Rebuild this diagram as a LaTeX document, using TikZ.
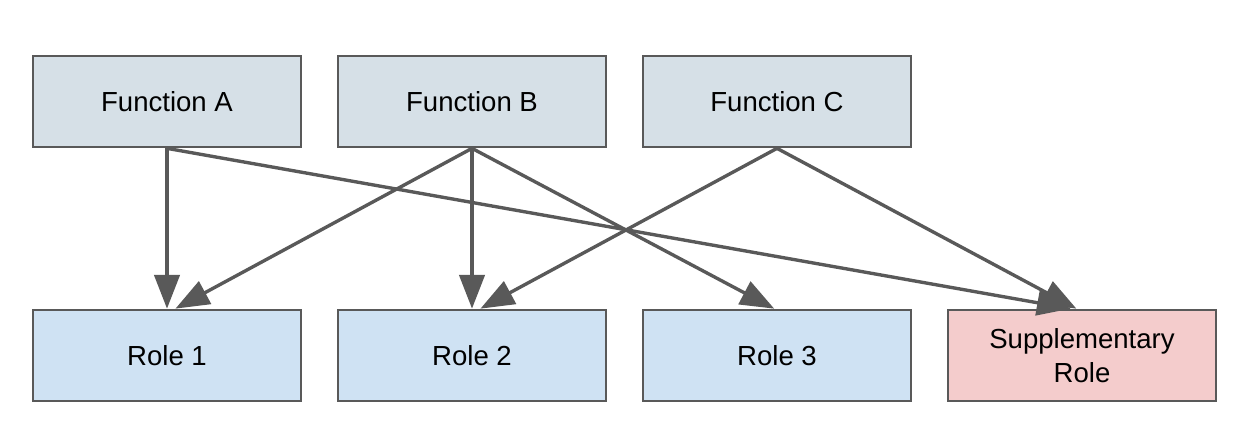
\documentclass[tikz,border=0pt]{standalone}
\usepackage{fontspec}
\setmainfont{Liberation Sans}
\usetikzlibrary{arrows.meta}
\definecolor{linegray}{HTML}{595959}
\definecolor{funcfill}{HTML}{D6E0E7}
\definecolor{rolefill}{HTML}{CFE2F3}
\definecolor{suppfill}{HTML}{F4CCCC}
\tikzset{
    box/.style={draw=linegray, line width=1.9pt, minimum width=6.7cm,
        minimum height=2.275cm, align=center, inner sep=0pt,
        font=\fontsize{19.6}{24}\selectfont},
    link/.style={draw=linegray, line width=2.4pt,
        -{Triangle[length=24pt, width=18pt]}}
}
\begin{document}
\begin{tikzpicture}[x=0.025cm, y=-0.025cm]
    \useasboundingbox (0,0) rectangle (1256,446);
    % top row
    \node[box, fill=funcfill] (funcA) at (167,101.5) {Function A};
    \node[box, fill=funcfill] (funcB) at (472,101.5) {Function B};
    \node[box, fill=funcfill] (funcC) at (777,101.5) {Function C};
    % bottom row
    \node[box, fill=rolefill] (role1) at (167,355.5) {Role 1};
    \node[box, fill=rolefill] (role2) at (472,355.5) {Role 2};
    \node[box, fill=rolefill] (role3) at (777,355.5) {Role 3};
    \node[box, fill=suppfill] (supp) at (1082,355.5) {Supplementary\\Role};
    % links
    \draw[link] (funcA.south) -- (role1.north);
    \draw[link] (funcA.south) -- ([xshift=-8]supp.north);
    \draw[link] (funcB.south) -- ([xshift=6]role1.north);
    \draw[link] (funcB.south) -- (role2.north);
    \draw[link] (funcB.south) -- ([xshift=-2]role3.north);
    \draw[link] (funcC.south) -- ([xshift=6]role2.north);
    \draw[link] (funcC.south) -- ([xshift=-4]supp.north);
\end{tikzpicture}
\end{document}
